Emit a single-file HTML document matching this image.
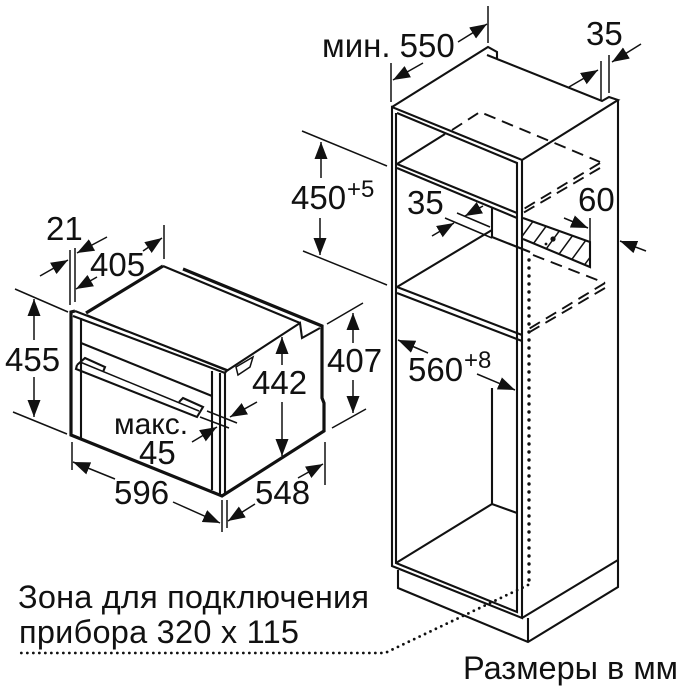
<!DOCTYPE html>
<html><head><meta charset="utf-8"><style>
html,body{margin:0;padding:0;background:#fff}
svg{display:block}
text{font-family:"Liberation Sans","DejaVu Sans",sans-serif;font-size:33px;fill:#111}
.l{fill:none;stroke:#111;stroke-width:1.5}
.m{fill:none;stroke:#111;stroke-width:2.1}
.b{fill:none;stroke:#111;stroke-width:3.2}
.d{fill:none;stroke:#111;stroke-width:1.9;stroke-dasharray:12 7}
.o{fill:none;stroke:#111;stroke-width:2.8;stroke-dasharray:0 6;stroke-linecap:round}
.v{fill:none;stroke:#111;stroke-width:3.4;stroke-dasharray:0 8;stroke-linecap:round}
.a{fill:none;stroke:#111;stroke-width:1.5;marker-end:url(#h)}
</style></head><body>
<svg width="679" height="688" viewBox="0 0 679 688" xmlns="http://www.w3.org/2000/svg">
<defs>
<marker id="h" markerUnits="userSpaceOnUse" markerWidth="20" markerHeight="14" refX="17" refY="6.5" orient="auto"><path d="M0 0L17 6.5L0 13Z" fill="#111"/></marker>
<clipPath id="hc"><path d="M523 218L590 242V267L523 239Z"/></clipPath>
</defs>
<rect width="679" height="688" fill="#fff"/>

<!-- oven -->
<path class="b" d="M86 313L163 266M183 269L322 326V398L324 403V431L222 496L71 435V312L75 311"/>
<path class="m" d="M163 266L300 323"/>
<path class="m" d="M75 311L227 370L225 373L73 316"/>
<path class="l" d="M87 315L225 370"/>
<path class="m" d="M81 318V438M212 371V490M220 373V495M225 372V493"/>
<path class="m" d="M81 343L212 396M225 372L300 323L302 338L320 328"/>
<path class="m" d="M77 365L85 358L105 367L103 372M77 365L76 369L197 417L203 407L183 398L179 402"/>
<path class="l" d="M80 362L199 411"/>
<path class="l" d="M236 367L253 357L250 367L238 375Z"/>

<!-- oven dimensions -->
<path class="l" d="M70 250V305M75 248V302M164 225V259M15 289L68 312M13 412L67 434M72 442V470M222 500V532M227 500V528M325 442V485M327 324L363 303M332 428L366 409M207 411L237 423M200 417L229 428"/>
<path class="a" d="M40 276L68 260"/><path class="a" d="M107 237L77 253"/>
<path class="a" d="M97 277L76 289"/><path class="a" d="M143 251L162 238"/>
<path class="a" d="M34 340V299"/><path class="a" d="M34 377V417"/>
<path class="a" d="M115 479L73 462"/><path class="a" d="M173 502L220 523"/>
<path class="a" d="M255 504L228 521"/><path class="a" d="M298 478L323 464"/>
<path class="a" d="M353 343V313"/><path class="a" d="M353 380V413"/>
<path class="a" d="M282 365V337"/><path class="a" d="M282 402V456"/>
<path class="a" d="M257 402L230 417"/><path class="a" d="M192 442L217 427"/>

<!-- cabinet -->
<path class="m" d="M392 107L488 47L497 52V59L487 55M497 59L602 101L609 97L618 100L522 160L392 107V566L522 618V160M618 100V587L528 642L398 588V570M528 618V642M522 618L618 560"/>
<path class="m" d="M397 113L517 163V612L396 563V113"/>
<path class="m" d="M396 563L492 504L517 513M492 388V504"/>
<path class="m" d="M397 164L517 213M397 168L517 218M397 164L445 134M397 287L522 335M397 293L522 341M397 287L492 230M492 208V237M492 237L530 252"/>
<path class="d" d="M452 130L480 112L600 162M600 163L522 210M600 168L523 213M533 255L605 283M605 283L527 330M605 288L528 333"/>
<path class="v" d="M529 260V585"/>
<path class="o" d="M528 585L385 653H20"/>
<path class="m" d="M523 218L590 242V267L523 239"/>
<g clip-path="url(#hc)" class="l"><path d="M515 246L545 205M528 251L558 210M541 256L571 215M554 261L584 220M567 266L597 225M580 271L610 230M593 276L623 235"/></g>
<circle cx="553" cy="239" r="2.6" fill="#111"/><circle cx="546" cy="244" r="1.4" fill="#111"/>

<!-- cabinet dimensions -->
<path class="l" d="M391 63V102M488 6V43M601 61V100M609 55V93M302 131L387 166M303 251L387 285M457 213L490 227M445 218L492 238M590 218V267"/>
<path class="a" d="M423 63L393 80"/><path class="a" d="M458 42L487 24"/>
<path class="a" d="M569 87L598 70"/><path class="a" d="M641 44L612 62"/>
<path class="a" d="M321 178V142"/><path class="a" d="M320 218V255"/>
<path class="a" d="M483 206L465 216"/><path class="a" d="M432 236L454 223"/>
<path class="a" d="M564 218L588 228"/><path class="a" d="M646 251L620 241"/>
<path class="a" d="M428 353L398 340"/><path class="a" d="M477 374L515 390"/>

<!-- labels -->
<text x="46" y="240">21</text>
<text x="90" y="276">405</text>
<text x="5" y="371">455</text>
<text x="327" y="372">407</text>
<text x="252" y="394">442</text>
<text x="114" y="434" style="font-size:30px">макс.</text>
<text x="139" y="464">45</text>
<text x="114" y="504">596</text>
<text x="255" y="504">548</text>
<text x="322" y="57">мин. 550</text>
<text x="586" y="45">35</text>
<text x="291" y="209">450</text>
<text x="347" y="197" style="font-size:24px">+5</text>
<text x="407" y="214">35</text>
<text x="578" y="211">60</text>
<text x="408" y="381">560</text>
<text x="464" y="368" style="font-size:24px">+8</text>
<text x="18" y="608" style="font-size:32.5px" textLength="351">Зона для подключения</text>
<text x="19" y="643" style="font-size:32.5px" textLength="280">прибора 320 x 115</text>
<text x="463" y="679" style="font-size:32.5px" textLength="215">Размеры в мм</text>
</svg>
</body></html>
